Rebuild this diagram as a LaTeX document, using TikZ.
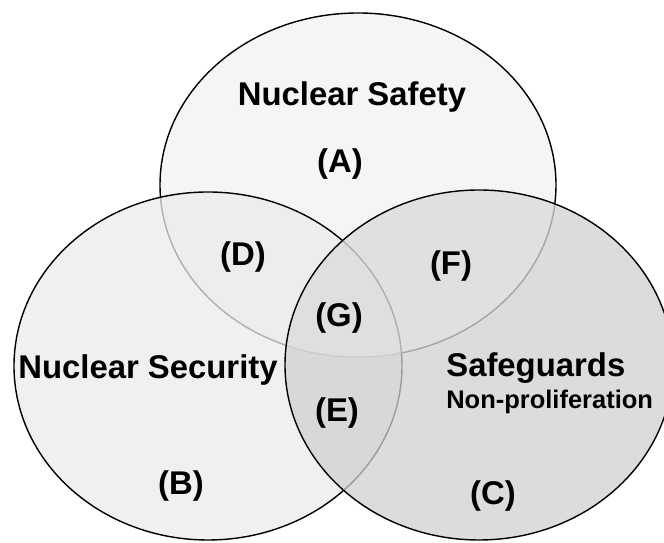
\documentclass[tikz,border=0pt]{standalone}
\usepackage{fontspec}
\setmainfont{Liberation Sans}
\definecolor{safetyfill}{gray}{0.96}
\definecolor{securityfill}{gray}{0.922}
\definecolor{guardfill}{gray}{0.816}

\begin{document}
\begin{tikzpicture}[x=0.02cm,y=-0.02cm,
  region/.style={font=\bfseries\fontsize{18.7}{22}\selectfont, inner sep=0pt},
  subregion/.style={font=\bfseries\fontsize{14.5}{17}\selectfont, inner sep=0pt},
  rim/.style={line width=0.8pt, black}]
\clip (0,0) rectangle (664,543);
% Safety ellipse
\fill[safetyfill] (358,185) ellipse [x radius=198, y radius=172];
\draw[rim] (358,185) ellipse [x radius=198, y radius=172];
% Security ellipse
\filldraw[rim, fill=securityfill, fill opacity=0.75] (208,366) ellipse [x radius=194, y radius=174];
% Safeguards ellipse
\fill[guardfill, fill opacity=0.75] (479,365) ellipse [x radius=194, y radius=175];
\begin{scope}
  \clip (479,365) ellipse [x radius=194, y radius=175];
  \fill[white, fill opacity=0.2] (358,185) ellipse [x radius=198, y radius=172];
\end{scope}
\draw[rim] (479,365) ellipse [x radius=194, y radius=175];
% Titles
\node[region] (safety) at (352,97) {Nuclear Safety};
\node[region] (security) at (148,370) {Nuclear Security};
\node[region, anchor=west] (safeguards) at (446,368) {Safeguards};
\node[subregion, anchor=west] (nonprolif) at (446,402) {Non-proliferation};
% Region letters
\foreach \n/\x/\y in {A/340/164,B/181/486,C/493/496,D/243/257,E/337/413,F/451/266,G/339/318} {
  \node[region] (\n) at (\x,\y) {(\n)};
}
\end{tikzpicture}
\end{document}
